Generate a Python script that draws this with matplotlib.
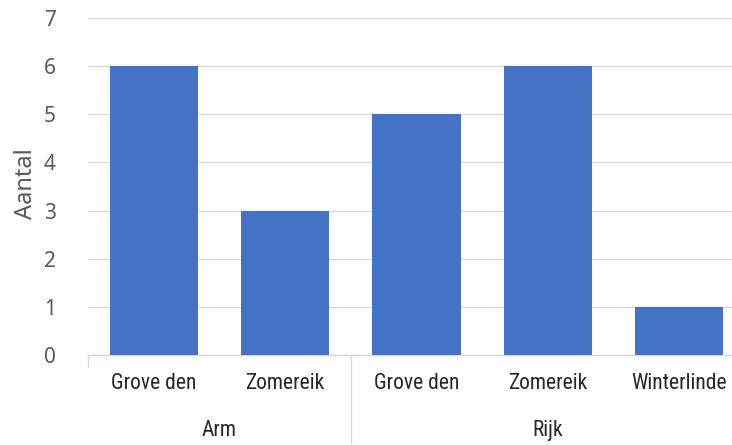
import matplotlib.pyplot as plt
from matplotlib import font_manager
from matplotlib.transforms import blended_transform_factory

# data
groups = ['Arm', 'Rijk']
species = ['Grove den', 'Zomereik', 'Grove den', 'Zomereik', 'Winterlinde']
group_of = [0, 0, 1, 1, 1]
counts = [6, 3, 5, 6, 1]

names = {f.name for f in font_manager.fontManager.ttflist}
label_font = ['DejaVu Sans']
for cand in ['Liberation Sans Narrow', 'Roboto Condensed', 'Liberation Sans']:
    if cand in names:
        label_font = [cand, 'DejaVu Sans']
        break
axis_font = ['Noto Sans', 'DejaVu Sans']

bar_color = '#4472C4'
grid_color = '#D9D9D9'
text_color = '#595959'

fig = plt.figure(figsize=(7.32, 4.45), dpi=100)
ax = fig.add_axes([0.120, 0.2022, 0.880, 0.7574])

x = list(range(len(counts)))
ax.bar(x, counts, width=0.67, color=bar_color, zorder=3)

ax.set_ylim(0, 7)
ax.set_xlim(-0.5, 4.4)
ax.set_yticks(range(8))
ax.yaxis.grid(True, color=grid_color, linewidth=1, zorder=0)
for side in ['top', 'right', 'left']:
    ax.spines[side].set_visible(False)
ax.spines['bottom'].set_color(grid_color)
ax.spines['bottom'].set_linewidth(1)

ax.tick_params(axis='y', length=0, pad=23, labelsize=15, labelcolor=text_color)
ax.tick_params(axis='x', length=0, pad=13, labelsize=15.5, labelcolor='#262626')
ax.set_xticks(x)
ax.set_xticklabels(species, family=label_font)
for t in ax.get_yticklabels():
    t.set_family(axis_font)

ax.set_ylabel('Aantal', fontsize=17, color=text_color, family=axis_font)
ax.yaxis.set_label_coords(-0.078, 0.51)

# group labels and separators below the axis
trans = blended_transform_factory(ax.transData, ax.transAxes)
for g, name in enumerate(groups):
    idx = [i for i, gi in enumerate(group_of) if gi == g]
    ax.text((idx[0] + idx[-1]) / 2, -0.225, name, transform=trans, ha='center', va='center',
            fontsize=15.5, color='#262626', family=label_font)

bounds = [-0.5] + [i + 0.5 for i in range(len(group_of) - 1) if group_of[i] != group_of[i + 1]]
for b in bounds:
    bottom = -0.035 if b == -0.5 else -0.26
    ax.plot([b, b], [0, bottom], transform=trans, color=grid_color, linewidth=1, clip_on=False)

fig.savefig('out.png', dpi=100)
